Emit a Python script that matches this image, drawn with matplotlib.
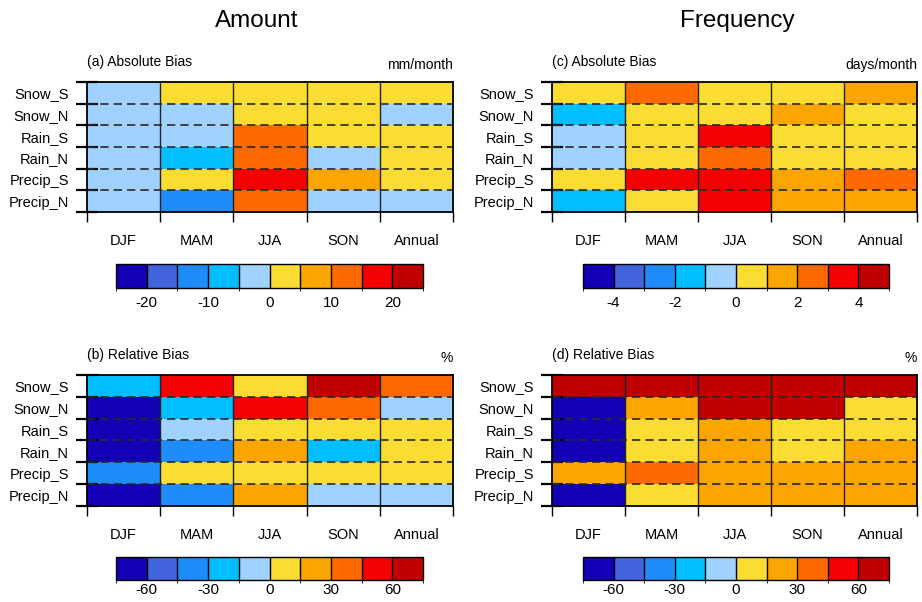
import matplotlib
matplotlib.use("Agg")
import matplotlib.pyplot as plt
import numpy as np
from matplotlib.colors import ListedColormap, BoundaryNorm
from matplotlib.colorbar import ColorbarBase

plt.rcParams["font.family"] = ["Liberation Sans", "DejaVu Sans"]

seasons = ["DJF", "MAM", "JJA", "SON", "Annual"]
rows = ["Snow_S", "Snow_N", "Rain_S", "Rain_N", "Precip_S", "Precip_N"]

# (a) amount, absolute bias (mm/month)
amount_abs = [
    [-1.8, 2.4, 1.9, 3.1, 2.2],
    [-2.6, -1.2, 1.5, 0.8, -0.9],
    [-3.4, -2.7, 12.6, 3.8, 4.1],
    [-2.9, -7.3, 13.8, -3.2, 2.7],
    [-4.1, 3.3, 18.4, 7.6, 4.4],
    [-3.7, -11.2, 14.1, -2.1, -1.6],
]
# (b) amount, relative bias (%)
amount_rel = [
    [-22, 52, 6, 71, 37],
    [-69, -24, 49, 41, -9],
    [-66, -7, 9, 11, 8],
    [-64, -36, 21, -19, 10],
    [-39, 5, 12, 13, 9],
    [-67, -33, 24, -6, -4],
]
# (c) frequency, absolute bias (days/month)
freq_abs = [
    [0.4, 2.6, 0.7, 0.9, 1.4],
    [-1.3, 0.8, 0.5, 1.3, 0.6],
    [-0.6, 0.5, 3.4, 0.8, 0.9],
    [-0.8, 0.6, 2.7, 0.7, 0.8],
    [0.3, 3.2, 3.6, 1.6, 2.2],
    [-1.5, 0.9, 3.8, 1.7, 1.8],
]
# (d) frequency, relative bias (%)
freq_rel = [
    [72, 68, 70, 74, 66],
    [-70, 23, 66, 63, 11],
    [-68, 12, 19, 9, 14],
    [-65, 10, 22, 13, 18],
    [24, 36, 21, 19, 25],
    [-66, 13, 26, 22, 20],
]

colors = ["#1400B4", "#4264DC", "#1E8CFA", "#00BEFF", "#A0D2FF",
          "#FADC32", "#FAA500", "#FF6A00", "#F50000", "#C00000"]
cmap = ListedColormap(colors)

panels = [
    # data, title, unit, step, ticks, axes rect, colorbar rect, label pad
    (amount_abs, "(a) Absolute Bias", "mm/month", 5, [-20, -10, 0, 10, 20],
     [0.0944, 0.6478, 0.397, 0.216], [0.1258, 0.5216, 0.333, 0.0399], 6),
    (amount_rel, "(b) Relative Bias", "%", 15, [-60, -30, 0, 30, 60],
     [0.0944, 0.1595, 0.397, 0.2176], [0.1258, 0.0365, 0.333, 0.0385], 2.5),
    (freq_abs, "(c) Absolute Bias", "days/month", 1, [-4, -2, 0, 2, 4],
     [0.5987, 0.6478, 0.396, 0.216], [0.6323, 0.5216, 0.332, 0.0399], 6),
    (freq_rel, "(d) Relative Bias", "%", 15, [-60, -30, 0, 30, 60],
     [0.5987, 0.1595, 0.396, 0.2176], [0.6323, 0.0365, 0.332, 0.0385], 2.5),
]

fig = plt.figure(figsize=(9.22, 6.02), dpi=100)

for data, title, unit, step, ticks, rect, cbrect, cbpad in panels:
    bounds = np.arange(-5, 6) * step
    norm = BoundaryNorm(bounds, cmap.N)
    ax = fig.add_axes(rect)
    ax.pcolormesh(np.arange(6), np.arange(7), np.array(data), cmap=cmap, norm=norm)
    ax.set_xlim(0, 5)
    ax.set_ylim(6, 0)

    for x in range(1, 5):
        ax.axvline(x, color="#222222", lw=1.0)
    for y in range(1, 6):
        ax.axhline(y, color="#2a2a2a", lw=1.2, ls=(0, (5, 3)))

    ax.set_xticks(range(6))
    ax.set_xticklabels([])
    ax.set_xticks(np.arange(5) + 0.5, minor=True)
    ax.set_xticklabels(seasons, minor=True, fontsize=10.5)
    ax.tick_params(axis="x", which="major", direction="out", length=7.5, width=1)
    ax.tick_params(axis="x", which="minor", length=0, pad=16)

    ax.set_yticks(range(7))
    ax.set_yticklabels([])
    ax.set_yticks(np.arange(6) + 0.5, minor=True)
    ax.set_yticklabels(rows, minor=True, fontsize=10.5)
    ax.tick_params(axis="y", which="major", direction="inout", length=16, width=1.6)
    ax.tick_params(axis="y", which="minor", length=0, pad=13)

    for s in ax.spines.values():
        s.set_linewidth(1.3)

    ax.text(0.0, 1.1, title, transform=ax.transAxes, fontsize=10, ha="left", va="bottom")
    ax.text(1.0, 1.08, unit, transform=ax.transAxes, fontsize=10, ha="right", va="bottom")

    cax = fig.add_axes(cbrect)
    cb = ColorbarBase(cax, cmap=cmap, norm=norm, boundaries=bounds,
                      orientation="horizontal", drawedges=True)
    cb.set_ticks(ticks)
    cb.set_ticklabels([str(t) for t in ticks])
    cb.outline.set_linewidth(1.0)
    cb.dividers.set_linewidth(1.0)
    cax.tick_params(length=0, labelsize=11, pad=cbpad)

fig.text(0.278, 0.965, "Amount", fontsize=17.5, ha="center", va="center")
fig.text(0.800, 0.965, "Frequency", fontsize=17.5, ha="center", va="center")

fig.savefig("out.png", dpi=100)
